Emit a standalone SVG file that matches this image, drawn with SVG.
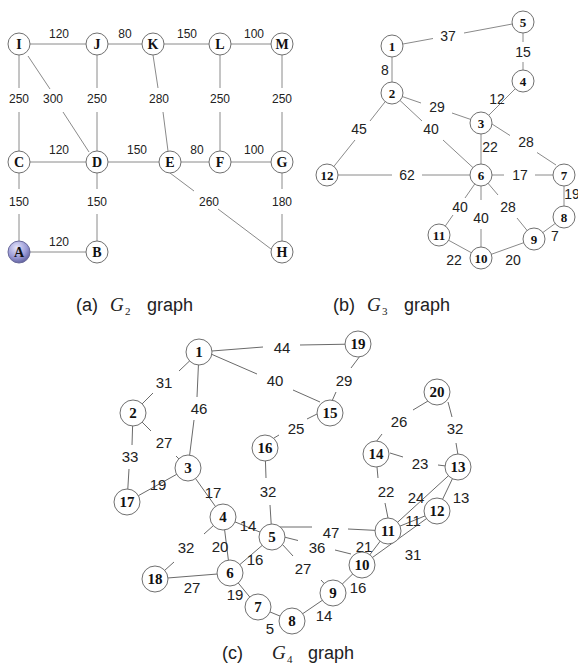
<svg xmlns="http://www.w3.org/2000/svg" width="578" height="667" viewBox="0 0 578 667">
<style>
.e{stroke:#8a8a8a;stroke-width:1;fill:none}
.ec{stroke:#6a6a6a;stroke-width:1;fill:none}
.n{fill:#fff;stroke:#707070;stroke-width:1}
.t{font-family:"Liberation Serif",serif;font-weight:bold;fill:#111;text-anchor:middle;dominant-baseline:central}
.ta{font-size:14px}
.tb{font-size:13px}
.tc{font-size:15px}
.w{font-family:"Liberation Sans Narrow","Liberation Sans",sans-serif;fill:#222;text-anchor:middle;dominant-baseline:central}
.wa{font-size:12px}
.wb{font-size:14px}
.wc{font-size:15px}
.cap{font-family:"Liberation Sans",sans-serif;font-size:18px;fill:#222}
.g{font-family:"Liberation Serif",serif;font-style:italic;font-size:19px;fill:#222}
.sub{font-family:"Liberation Serif",serif;font-size:11px;fill:#222}
</style>
<defs>
<radialGradient id="gA" cx="0.4" cy="0.3" r="0.75">
<stop offset="0" stop-color="#e4e4fa"/>
<stop offset="0.6" stop-color="#9a9ad6"/>
<stop offset="1" stop-color="#5a5a98"/>
</radialGradient>
</defs>

<!-- Graph (a) connectors -->
<g id="edges-a" class="e">
<path d="M19 44H97M97 44H153M153 44H220M220 44H282"/>
<path d="M19 162H97M97 162H170M170 162H220M220 162H282"/>
<path d="M19 252H97"/>
<path d="M19 44V88M19 112V162"/>
<path d="M28 56L50 89M63 112L89 152"/>
<path d="M97 44V88M97 112V162"/>
<path d="M153 55L158 88M163 112L168 151"/>
<path d="M220 44V88M220 112V162"/>
<path d="M282 44V88M282 112V162"/>
<path d="M19 162V189M19 214V252"/>
<path d="M97 162V189M97 214V252"/>
<path d="M282 162V189M282 214V252"/>
<path d="M170 173L194 191M218 209L271 249"/>
</g>
<g id="labels-a" class="w wa">
<text x="59" y="34">120</text><text x="125" y="34">80</text><text x="187" y="34">150</text><text x="254" y="34">100</text>
<text x="19" y="99">250</text><text x="53" y="99">300</text><text x="97" y="99">250</text><text x="159" y="99">280</text><text x="220" y="99">250</text><text x="282" y="99">250</text>
<text x="59" y="150">120</text><text x="137" y="150">150</text><text x="197" y="150">80</text><text x="254" y="150">100</text>
<text x="19" y="202">150</text><text x="97" y="202">150</text><text x="209" y="202">260</text><text x="282" y="202">180</text>
<text x="59" y="242">120</text>
</g>
<g id="a-I"><circle class="n" cx="19" cy="44" r="11"/><text class="t ta" x="19" y="44">I</text></g>
<g id="a-J"><circle class="n" cx="97" cy="44" r="11"/><text class="t ta" x="97" y="44">J</text></g>
<g id="a-K"><circle class="n" cx="153" cy="44" r="11"/><text class="t ta" x="153" y="44">K</text></g>
<g id="a-L"><circle class="n" cx="220" cy="44" r="11"/><text class="t ta" x="220" y="44">L</text></g>
<g id="a-M"><circle class="n" cx="282" cy="44" r="11"/><text class="t ta" x="282" y="44">M</text></g>
<g id="a-C"><circle class="n" cx="19" cy="162" r="11"/><text class="t ta" x="19" y="162">C</text></g>
<g id="a-D"><circle class="n" cx="97" cy="162" r="11"/><text class="t ta" x="97" y="162">D</text></g>
<g id="a-E"><circle class="n" cx="170" cy="162" r="11"/><text class="t ta" x="170" y="162">E</text></g>
<g id="a-F"><circle class="n" cx="220" cy="162" r="11"/><text class="t ta" x="220" y="162">F</text></g>
<g id="a-G"><circle class="n" cx="282" cy="162" r="11"/><text class="t ta" x="282" y="162">G</text></g>
<g id="a-A"><circle cx="19" cy="252" r="11" fill="url(#gA)" stroke="#6a6a9a"/><text class="t ta" x="19" y="252">A</text></g>
<g id="a-B"><circle class="n" cx="97" cy="252" r="11"/><text class="t ta" x="97" y="252">B</text></g>
<g id="a-H"><circle class="n" cx="282" cy="252" r="11"/><text class="t ta" x="282" y="252">H</text></g>
<g id="cap-a"><text class="cap" x="76" y="311">(a)</text><text class="g" x="110" y="311">G</text><text class="sub" x="125" y="315">2</text><text class="cap" x="147" y="311">graph</text></g>

<!-- Graph (b) connectors -->
<g id="edges-b" class="e">
<path d="M392 46L433 38.5M464 33L523 22"/>
<path d="M523 22V42M523 62V81"/>
<path d="M392 46V93"/>
<path d="M523 81L481 123"/>
<path d="M392 93L421 103M452 113L481 123"/>
<path d="M392 93L370 121M355 140L327 175"/>
<path d="M392 93L422 121M443 140L481 175"/>
<path d="M481 123V175"/>
<path d="M492 124L510 135.5M537 152.5L556 165"/>
<path d="M327 175H392M422 175H481"/>
<path d="M481 175H504M535 175H564"/>
<path d="M564 175V217"/>
<path d="M481 175L465 198M453 215L439 235"/>
<path d="M481 175V200M481 229V258"/>
<path d="M481 175L498 195M517 218L534 239"/>
<path d="M439 235L481 258"/>
<path d="M481 258L534 239"/>
<path d="M534 239L564 217"/>
</g>
<g id="labels-b" class="w wb">
<text x="448" y="36">37</text><text x="523" y="52">15</text><text x="385" y="70">8</text><text x="497" y="99">12</text>
<text x="437" y="107">29</text><text x="359" y="129">45</text><text x="431" y="129">40</text><text x="490" y="147">22</text><text x="526" y="142">28</text>
<text x="407" y="175">62</text><text x="520" y="175">17</text><text x="572" y="194">19</text>
<text x="460" y="207">40</text><text x="481" y="218">40</text><text x="508" y="207">28</text><text x="555" y="236">7</text>
<text x="454" y="260">22</text><text x="513" y="260">20</text>
</g>
<g id="b-1"><circle class="n" cx="392" cy="46" r="11"/><text class="t tb" x="392" y="46">1</text></g>
<g id="b-5"><circle class="n" cx="523" cy="22" r="11"/><text class="t tb" x="523" y="22">5</text></g>
<g id="b-4"><circle class="n" cx="523" cy="81" r="11"/><text class="t tb" x="523" y="81">4</text></g>
<g id="b-2"><circle class="n" cx="392" cy="93" r="11"/><text class="t tb" x="392" y="93">2</text></g>
<g id="b-3"><circle class="n" cx="481" cy="123" r="11"/><text class="t tb" x="481" y="123">3</text></g>
<g id="b-12"><circle class="n" cx="327" cy="175" r="11"/><text class="t tb" x="327" y="175">12</text></g>
<g id="b-6"><circle class="n" cx="481" cy="175" r="11"/><text class="t tb" x="481" y="175">6</text></g>
<g id="b-7"><circle class="n" cx="564" cy="175" r="11"/><text class="t tb" x="564" y="175">7</text></g>
<g id="b-8"><circle class="n" cx="564" cy="217" r="11"/><text class="t tb" x="564" y="217">8</text></g>
<g id="b-11"><circle class="n" cx="439" cy="235" r="11"/><text class="t tb" x="439" y="235">11</text></g>
<g id="b-10"><circle class="n" cx="481" cy="258" r="11"/><text class="t tb" x="481" y="258">10</text></g>
<g id="b-9"><circle class="n" cx="534" cy="239" r="11"/><text class="t tb" x="534" y="239">9</text></g>
<g id="cap-b"><text class="cap" x="333" y="311">(b)</text><text class="g" x="367" y="311">G</text><text class="sub" x="382" y="315">3</text><text class="cap" x="404" y="311">graph</text></g>

<!-- Graph (c) connectors -->
<g id="edges-c" class="ec">
<path d="M199 352L263 347M300 345L358 344"/>
<path d="M211 354L257 374M293 390L320 402"/>
<path d="M199 352L179 371M153 393L133 413"/>
<path d="M199 352L197 397M194 420L188 468"/>
<path d="M133 413L151 431M176 456L188 468"/>
<path d="M133 413L132 445M129 469L127 502"/>
<path d="M188 468L127 502"/>
<path d="M188 468L223 517"/>
<path d="M223 517L272 537"/>
<path d="M223 517L230 573"/>
<path d="M223 517L204 534M174 562L155 579"/>
<path d="M155 579L230 573"/>
<path d="M230 573L272 537"/>
<path d="M230 573L258 607"/>
<path d="M258 607L292 621"/>
<path d="M292 621L333 593"/>
<path d="M333 593L362 565"/>
<path d="M362 565L388 531"/>
<path d="M362 565L437 511"/>
<path d="M388 531L437 511"/>
<path d="M388 531L458 467"/>
<path d="M437 511L458 467"/>
<path d="M272 537L270 505M266 478L265 448"/>
<path d="M280 527L312 527M348 529L388 531"/>
<path d="M284 537L298 540.5M335 550L351 554"/>
<path d="M282 544L293 556M321 580L333 593"/>
<path d="M317 414L307 419M279 435L274 438"/>
<path d="M360 356L351 368M336 392L332 401"/>
<path d="M428 401L413 410M382 434L376 442"/>
<path d="M448 402L452 417M456 443L458 455"/>
<path d="M390 453L403 457M438 465L446 466"/>
<path d="M377 467L378 478M385 503L388 518"/>
</g>
<g id="labels-c" class="w wc">
<text x="282" y="347">44</text><text x="164" y="382">31</text><text x="275" y="380">40</text><text x="199" y="408">46</text>
<text x="164" y="442">27</text><text x="130" y="456">33</text><text x="296" y="428">25</text><text x="344" y="380">29</text>
<text x="399" y="421">26</text><text x="455" y="428">32</text><text x="420" y="463">23</text><text x="386" y="491">22</text>
<text x="268" y="491">32</text><text x="416" y="497">24</text><text x="461" y="497">13</text><text x="413" y="520">11</text>
<text x="331" y="532">47</text><text x="317" y="547">36</text><text x="364" y="546">21</text><text x="413" y="554">31</text>
<text x="303" y="568">27</text><text x="358" y="587">16</text><text x="324" y="615">14</text><text x="158" y="484">19</text>
<text x="213" y="492">17</text><text x="248" y="525">14</text><text x="220" y="546">20</text><text x="186" y="547">32</text>
<text x="192" y="587">27</text><text x="255" y="559">16</text><text x="235" y="594">19</text><text x="270" y="628">5</text>
</g>
<g id="c-1"><circle class="n" cx="199" cy="352" r="13"/><text class="t tc" x="199" y="352">1</text></g>
<g id="c-2"><circle class="n" cx="133" cy="413" r="13"/><text class="t tc" x="133" y="413">2</text></g>
<g id="c-3"><circle class="n" cx="188" cy="468" r="13"/><text class="t tc" x="188" y="468">3</text></g>
<g id="c-16"><circle class="n" cx="265" cy="448" r="13"/><text class="t tc" x="265" y="448">16</text></g>
<g id="c-17"><circle class="n" cx="127" cy="502" r="13"/><text class="t tc" x="127" y="502">17</text></g>
<g id="c-4"><circle class="n" cx="223" cy="517" r="13"/><text class="t tc" x="223" y="517">4</text></g>
<g id="c-19"><circle class="n" cx="358" cy="344" r="13"/><text class="t tc" x="358" y="344">19</text></g>
<g id="c-15"><circle class="n" cx="330" cy="413" r="13"/><text class="t tc" x="330" y="413">15</text></g>
<g id="c-20"><circle class="n" cx="437" cy="392" r="13"/><text class="t tc" x="437" y="392">20</text></g>
<g id="c-14"><circle class="n" cx="376" cy="454" r="13"/><text class="t tc" x="376" y="454">14</text></g>
<g id="c-13"><circle class="n" cx="458" cy="467" r="13"/><text class="t tc" x="458" y="467">13</text></g>
<g id="c-11"><circle class="n" cx="388" cy="531" r="13"/><text class="t tc" x="388" y="531">11</text></g>
<g id="c-12"><circle class="n" cx="437" cy="511" r="13"/><text class="t tc" x="437" y="511">12</text></g>
<g id="c-10"><circle class="n" cx="362" cy="565" r="13"/><text class="t tc" x="362" y="565">10</text></g>
<g id="c-9"><circle class="n" cx="333" cy="593" r="13"/><text class="t tc" x="333" y="593">9</text></g>
<g id="c-5"><circle class="n" cx="272" cy="537" r="13"/><text class="t tc" x="272" y="537">5</text></g>
<g id="c-6"><circle class="n" cx="230" cy="573" r="13"/><text class="t tc" x="230" y="573">6</text></g>
<g id="c-18"><circle class="n" cx="155" cy="579" r="13"/><text class="t tc" x="155" y="579">18</text></g>
<g id="c-7"><circle class="n" cx="258" cy="607" r="13"/><text class="t tc" x="258" y="607">7</text></g>
<g id="c-8"><circle class="n" cx="292" cy="621" r="13"/><text class="t tc" x="292" y="621">8</text></g>
<g id="cap-c"><text class="cap" x="222" y="659">(c)</text><text class="g" x="272" y="659">G</text><text class="sub" x="287" y="663">4</text><text class="cap" x="308" y="659">graph</text></g>
</svg>
